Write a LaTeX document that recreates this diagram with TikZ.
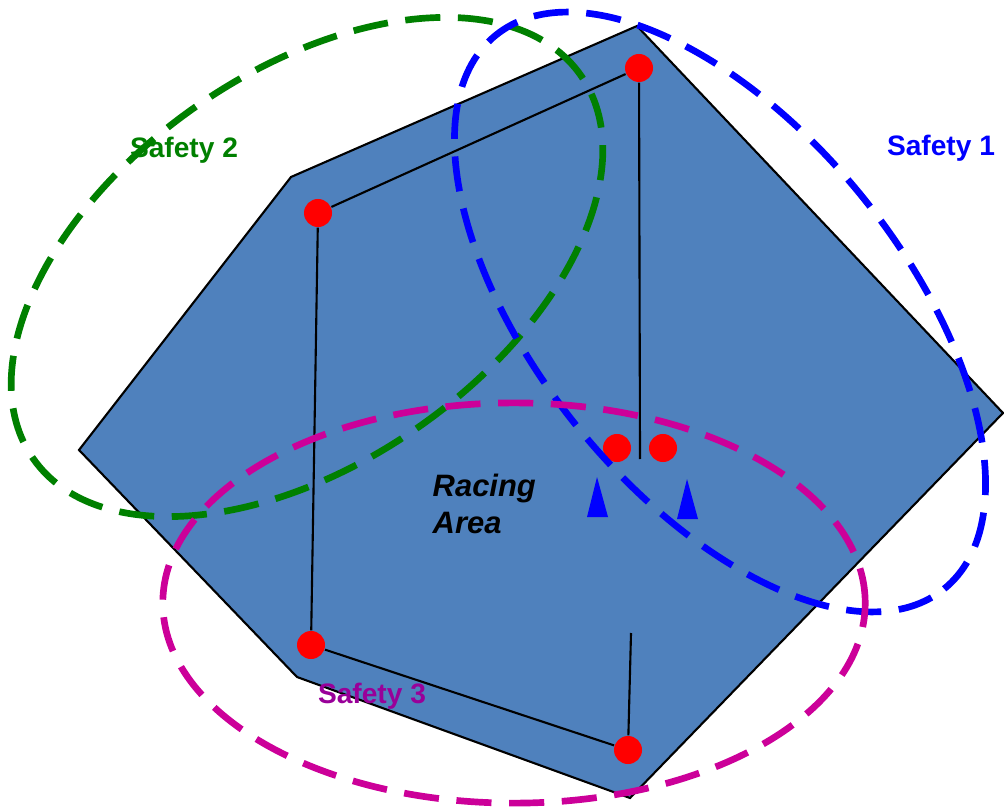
\documentclass[tikz,border=0pt]{standalone}
\usepackage{fontspec}
\setmainfont{Liberation Sans}
\usepackage{xcolor}
\usetikzlibrary{positioning}

\definecolor{areablue}{RGB}{79,129,189}
\definecolor{zonegreen}{RGB}{0,128,0}
\definecolor{zoneblue}{RGB}{0,0,255}
\definecolor{zonemagenta}{RGB}{204,0,153}
\definecolor{tagpurple}{RGB}{153,0,153}

\begin{document}
\begin{tikzpicture}[
  x=0.01cm, y=-0.01cm,
  dot/.style={circle, fill=red, minimum size=0.28cm, inner sep=0pt},
  track/.style={draw=black, line width=0.6pt},
  zone/.style={line width=1.9pt, dash pattern=on 10pt off 5pt},
  tag/.style={font=\fontsize{8}{9.6}\selectfont\bfseries, inner sep=0pt},
  car/.style={fill=zoneblue}]
\useasboundingbox (0,0) rectangle (1004,807);

% Racing area
\draw[fill=areablue, line width=0.6pt] (637,26) -- (1003,413) -- (630,798) -- (297,677) -- (79,450) -- (291,177) -- cycle;

% Track: corner points
\node[dot] (top) at (639,68) {};
\node[dot] (tl) at (318,213) {};
\node[dot] (bl) at (311,645) {};
\node[dot] (bot) at (628,750) {};
\node[dot] (startl) at (617,448) {};
\node[dot] (startr) at (663,448) {};
\coordinate (topend) at (640,459);
\coordinate (botend) at (631,633);

\draw[track] (tl) -- (top);
\draw[track] (top) -- (topend);
\draw[track] (tl) -- (bl);
\draw[track] (bl) -- (bot);
\draw[track] (botend) -- (bot);

% Cars on the grid
\fill[car] (597,477) -- (608,517) -- (587,517) -- cycle;
\fill[car] (687,479) -- (698,519) -- (677,519) -- cycle;

% Safety zones
\draw[zone, draw=zonegreen, rotate around={35:(307,267)}] (307,267) ellipse [x radius=3.34cm, y radius=1.95cm];
\draw[zone, draw=zoneblue, rotate around={-51:(720,312)}] (720,312) ellipse [x radius=3.56cm, y radius=1.83cm];
\draw[zone, draw=zonemagenta] (514,603) ellipse [x radius=3.51cm, y radius=2.0cm];

% Labels
\node[tag, text=zonegreen] (safety2) at (184,150) {Safety 2};
\node[tag, text=zoneblue] (safety1) at (941,148) {Safety 1};
\node[tag, text=tagpurple] (safety3) at (372,696) {Safety 3};
\node[anchor=west, align=left, inner sep=0pt, font=\fontsize{8.8}{10.5}\selectfont\bfseries\itshape] (area) at (432,504) {Racing\\Area};
\end{tikzpicture}
\end{document}
